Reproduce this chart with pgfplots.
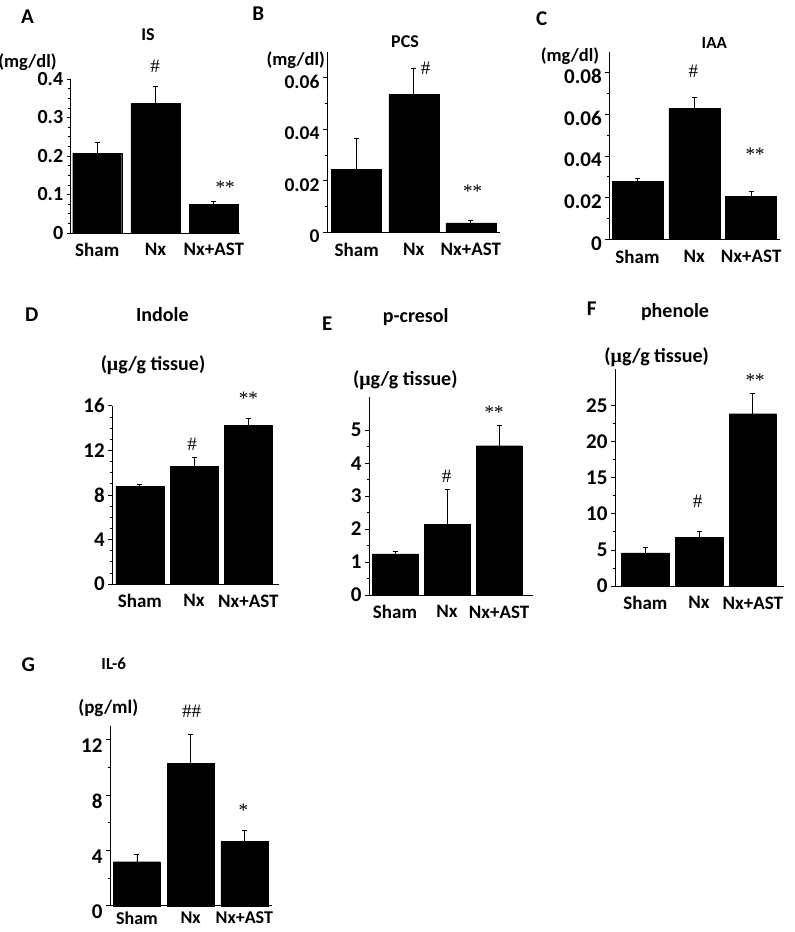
\documentclass[border=0pt]{standalone}
\usepackage{pgfplots}
\pgfplotsset{compat=1.18}
\usepackage{fontspec}
\setmainfont{Carlito}
\newfontfamily\serif{Liberation Serif}
\newcommand{\fs}[1]{\fontsize{#1}{#1}\selectfont}
\newcommand{\mug}{{\serif μ}}
\pgfplotsset{
 panel/.style={
  scale only axis, anchor=south west,
  axis x line*=bottom, axis y line*=left,
  ymin=0, ybar, clip=false,
  xtick={0,1,2}, xticklabels={Sham,Nx,Nx+AST},
  x tick style={draw=none},
  tick align=outside,
  major tick length=4pt, minor tick length=2.5pt,
  tick style={black, line width=0.7pt},
  axis line style={black, line width=0.8pt},
  /pgf/number format/assume math mode=true,
  scaled y ticks=false,
  enlargelimits=false,
  xticklabel style={font=\fs{19}\bfseries, yshift=-3pt},
 },
 bars/.style={draw=black, fill=black, error bars/.cd, y dir=plus, y explicit,
   error bar style={black, line width=0.8pt},
   error mark options={rotate=90, mark size=2.5pt, line width=0.8pt, black}},
}
\begin{document}
\begin{tikzpicture}
\useasboundingbox (0,0) rectangle (795pt,-932pt);
% ---------- A ----------
\begin{axis}[panel, at={(70.7pt,-233pt)}, width=169.3pt, height=154pt,
  xmin=-0.455, xmax=2.45, ymax=0.4, bar width=49pt,
  ytick={0,0.1,0.2,0.3,0.4}, yticklabels={0,0.1,0.2,0.3,0.4}, minor y tick num=3,
  yticklabel style={font=\fs{20}\bfseries}]
\addplot[bars] coordinates {(0,0.207) +- (0,0.029) (1,0.336) +- (0,0.045) (2,0.0745) +- (0,0.0075)};
\end{axis}
\node[font=\fs{21}\bfseries] at (27.5pt,-16.7pt) {A};
\node[font=\fs{18}\bfseries] at (148pt,-34.3pt) {IS};
\node[font=\fs{18.5}\bfseries] at (27.5pt,-61.7pt) {(mg/dl)};
\node[font=\fs{19}\serif] at (155pt,-66pt) {\#};
\node[font=\fs{19}\serif] at (225pt,-187pt) {**};
% ---------- B ----------
\begin{axis}[panel, at={(327pt,-232.3pt)}, width=173pt, height=180.6pt,
  xmin=-0.52, xmax=2.51, ymax=0.07, bar width=50pt,
  ytick={0,0.02,0.04,0.06}, yticklabels={0,0.02,0.04,0.06}, minor y tick num=1,
  yticklabel style={font=\fs{19.5}\bfseries, yshift=-4pt}]
\addplot[bars] coordinates {(0,0.0245) +- (0,0.0119) (1,0.0534) +- (0,0.0103) (2,0.0037) +- (0,0.0011)};
\end{axis}
\node[font=\fs{21}\bfseries] at (258.3pt,-13.3pt) {B};
\node[font=\fs{18}\bfseries] at (405pt,-42pt) {PCS};
\node[font=\fs{18.5}\bfseries] at (295.7pt,-60pt) {(mg/dl)};
\node[font=\fs{19}\serif] at (425.7pt,-68.3pt) {\#};
\node[font=\fs{19}\serif] at (472.7pt,-191.7pt) {**};
% ---------- C ----------
\begin{axis}[panel, at={(609.3pt,-239.3pt)}, width=170.7pt, height=187.6pt,
  xmin=-0.496, xmax=2.507, ymax=0.09, bar width=51pt,
  ytick={0,0.02,0.04,0.06,0.08}, yticklabels={0,0.02,0.04,0.06,0.08}, minor y tick num=1,
  yticklabel style={font=\fs{21}\bfseries, yshift=-4pt}]
\addplot[bars] coordinates {(0,0.0277) +- (0,0.0013) (1,0.0629) +- (0,0.0051) (2,0.0205) +- (0,0.0024)};
\end{axis}
\node[font=\fs{21}\bfseries] at (541.7pt,-18.3pt) {C};
\node[font=\fs{17}\bfseries] at (714.3pt,-43.3pt) {IAA};
\node[font=\fs{18.5}\bfseries] at (570pt,-56pt) {(mg/dl)};
\node[font=\fs{19}\serif] at (693.3pt,-71.7pt) {\#};
\node[font=\fs{19}\serif] at (755pt,-154pt) {**};
% ---------- D ----------
\begin{axis}[panel, at={(112.3pt,-584pt)}, width=166.7pt, height=178.3pt,
  xmin=-0.508, xmax=2.567, ymax=16, bar width=48pt,
  ytick={0,4,8,12,16}, minor y tick num=3,
  yticklabel style={font=\fs{21}\bfseries}]
\addplot[bars] coordinates {(0,8.79) +- (0,0.18) (1,10.56) +- (0,0.83) (2,14.21) +- (0,0.62)};
\end{axis}
\node[font=\fs{21}\bfseries] at (31.7pt,-315pt) {D};
\node[font=\fs{20}\bfseries] at (162.3pt,-315pt) {Indole};
\node[font=\fs{20}\bfseries] at (153pt,-365pt) {(\mug g/g tissue)};
\node[font=\fs{19}\serif] at (192pt,-444.3pt) {\#};
\node[font=\fs{19}\serif] at (248.3pt,-398.3pt) {**};
% ---------- E ----------
\begin{axis}[panel, at={(369pt,-595pt)}, width=163.7pt, height=197.7pt,
  xmin=-0.5, xmax=2.648, ymax=6, bar width=46pt,
  ytick={0,1,2,3,4,5}, minor y tick num=1,
  yticklabel style={font=\fs{21}\bfseries}]
\addplot[bars] coordinates {(0,1.25) +- (0,0.07) (1,2.14) +- (0,1.07) (2,4.53) +- (0,0.63)};
\end{axis}
\node[font=\fs{21}\bfseries] at (327.3pt,-324pt) {E};
\node[font=\fs{20}\bfseries] at (415.7pt,-316.7pt) {p-cresol};
\node[font=\fs{20}\bfseries] at (405.3pt,-380.7pt) {(\mug g/g tissue)};
\node[font=\fs{19}\serif] at (446.7pt,-476pt) {\#};
\node[font=\fs{19}\serif] at (494pt,-412.7pt) {**};
% ---------- F ----------
\begin{axis}[panel, at={(615pt,-586pt)}, width=169pt, height=216.7pt,
  xmin=-0.564, xmax=2.58, ymax=30, bar width=47.5pt,
  ytick={0,5,10,15,20,25}, minor y tick num=1,
  yticklabel style={font=\fs{21}\bfseries}]
\addplot[bars] coordinates {(0,4.57) +- (0,0.74) (1,6.75) +- (0,0.78) (2,23.85) +- (0,2.85)};
\end{axis}
\node[font=\fs{21}\bfseries] at (591.7pt,-308.3pt) {F};
\node[font=\fs{20}\bfseries] at (675pt,-311.7pt) {phenole};
\node[font=\fs{20}\bfseries] at (656.7pt,-357.3pt) {(\mug g/g tissue)};
\node[font=\fs{19}\serif] at (697.7pt,-501.7pt) {\#};
\node[font=\fs{19}\serif] at (755pt,-380pt) {**};
% ---------- G ----------
\begin{axis}[panel, at={(110pt,-905.7pt)}, width=162pt, height=179.8pt,
  xmin=-0.503, xmax=2.516, ymax=13, bar width=47pt,
  ytick={0,4,8,12}, minor y tick num=1,
  xticklabel style={font=\fs{18}\bfseries, yshift=2pt, inner sep=1pt},
  yticklabel style={font=\fs{21}\bfseries, yshift=-6pt}]
\addplot[bars] coordinates {(0,3.18) +- (0,0.53) (1,10.29) +- (0,2.1) (2,4.63) +- (0,0.84)};
\end{axis}
\node[font=\fs{21}\bfseries] at (28.3pt,-665pt) {G};
\node[font=\fs{17}\bfseries] at (113.7pt,-663.3pt) {IL-6};
\node[font=\fs{19}\bfseries] at (108.3pt,-708.3pt) {(pg/ml)};
\node[font=\fs{19}\serif] at (191.7pt,-711.7pt) {\#\#};
\node[font=\fs{19}\serif] at (243.3pt,-810pt) {*};
\end{tikzpicture}
\end{document}
